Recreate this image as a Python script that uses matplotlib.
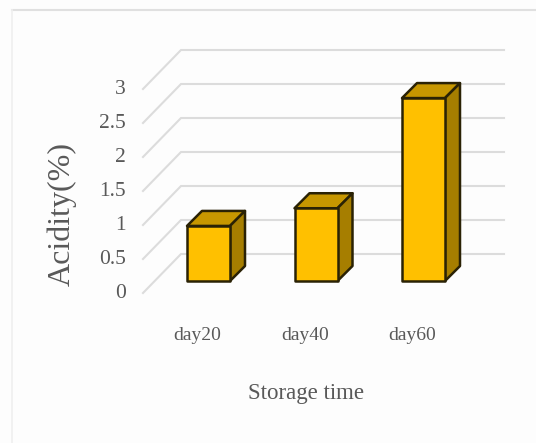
import matplotlib
matplotlib.use("Agg")
import matplotlib.pyplot as plt
from matplotlib.patches import Polygon, Rectangle

categories = ["day20", "day40", "day60"]
acidity = [0.81, 1.07, 2.69]
tick_values = [0, 0.5, 1, 1.5, 2, 2.5, 3]
tick_labels = ["0", "0.5", "1", "1.5", "2", "2.5", "3"]

plt.rcParams["font.family"] = ["Liberation Serif", "DejaVu Serif"]
TEXT = "#595959"
GRID = "#DCDCDC"

W, H = 536, 443
X0, X_STEP = 208.5, 107.5   # pixel x of first category, pixels per category
Y0, Y_STEP = 281.0, 68.0    # pixel y of value 0 on the bar plane, pixels per unit

fig = plt.figure(figsize=(W / 100, H / 100), dpi=100)
ax = fig.add_axes([0, 0, 1, 1])
ax.set_xlim(-X0 / X_STEP, (W - X0) / X_STEP)
ax.set_ylim((Y0 - H) / Y_STEP, Y0 / Y_STEP)
ax.axis("off")

# chart frame: strong top edge, very faint left edge
frame_x = (12 - X0) / X_STEP
frame_y = (Y0 - 10) / Y_STEP
ax.plot([frame_x, (W - X0) / X_STEP], [frame_y, frame_y], color="#E0E0E0", lw=1.5, zorder=1)
ax.plot([frame_x, frame_x], [(Y0 - H) / Y_STEP, frame_y], color="#EFEFEF", lw=1.2, zorder=1)

# floor / wall grid: short diagonal then long back-wall line
front_x = (143 - X0) / X_STEP
back_x = (181 - X0) / X_STEP
end_x = (504 - X0) / X_STEP
front_dy = -12.0 / Y_STEP
back_dy = 27.0 / Y_STEP
for v, lab in zip(tick_values, tick_labels):
    ax.plot([front_x, back_x, end_x],
            [v + front_dy, v + back_dy, v + back_dy],
            color=GRID, lw=1.5, zorder=2, solid_joinstyle="miter")
    ax.text((126 - X0) / X_STEP, v + front_dy, lab, ha="right", va="center",
            fontsize=15.5, color=TEXT)

# 3D-looking bars: front face, top and side
bar_w = 43.0 / X_STEP
depth_x = 15.0 / X_STEP
depth_y = 15.0 / Y_STEP
edge = dict(edgecolor="#2A2205", linewidth=1.8, joinstyle="round", zorder=3)
for i, val in enumerate(acidity):
    left = i - bar_w / 2
    right = i + bar_w / 2
    ax.add_patch(Polygon([(left, val), (right, val),
                          (right + depth_x, val + depth_y), (left + depth_x, val + depth_y)],
                         facecolor="#C79700", **edge))
    ax.add_patch(Polygon([(right, 0), (right + depth_x, depth_y),
                          (right + depth_x, val + depth_y), (right, val)],
                         facecolor="#A67E00", **edge))
    ax.add_patch(Rectangle((left, 0), bar_w, val, facecolor="#FFC000", **edge))
    ax.text(i - 11 / X_STEP, (Y0 - 336) / Y_STEP, categories[i], ha="center", va="center",
            fontsize=14, color=TEXT)

ax.text((62 - X0) / X_STEP, (Y0 - 214) / Y_STEP, "Acidity(%)", rotation=90,
        ha="center", va="center", fontsize=23, color=TEXT)
ax.text((306 - X0) / X_STEP, (Y0 - 393) / Y_STEP, "Storage time", ha="center", va="center",
        fontsize=16.5, color=TEXT)

fig.savefig("out.png", dpi=100, facecolor="#FDFDFD")
